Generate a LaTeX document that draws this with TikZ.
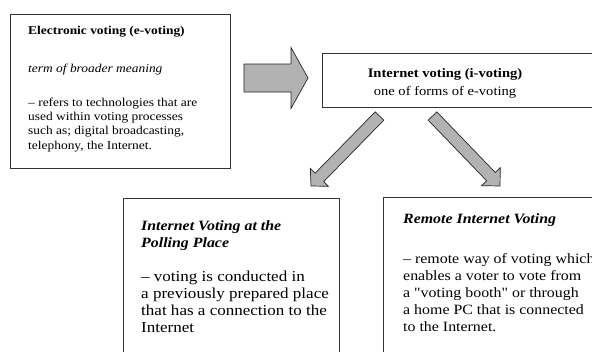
\documentclass[tikz,border=0pt]{standalone}
\usepackage{fontspec}
\setmainfont{Liberation Serif}[Ligatures=TeXOff, FakeStretch=1.12]
\usetikzlibrary{positioning,calc}

\begin{document}
\begin{tikzpicture}[
  x=1pt, y=-1pt,
  frame/.style={rectangle, draw=black!80, line width=1pt, anchor=north west, inner sep=0pt},
  txt/.style={anchor=base west, align=left, inner sep=0pt},
  blockarrow/.style n args={3}{draw=black!85, fill=black!30, line width=0.7pt, line join=miter,
    to path={($(\tikztostart)!#1!90:(\tikztotarget)$)
      -- ($(\tikztotarget)!#3!(\tikztostart)!#1!90:(\tikztotarget)$)
      -- ($(\tikztotarget)!#3!(\tikztostart)!#2!90:(\tikztotarget)$)
      -- (\tikztotarget)
      -- ($(\tikztotarget)!#3!(\tikztostart)!#2!-90:(\tikztotarget)$)
      -- ($(\tikztotarget)!#3!(\tikztostart)!#1!-90:(\tikztotarget)$)
      -- ($(\tikztostart)!#1!-90:(\tikztotarget)$) -- cycle}}
]
\useasboundingbox (0,0) rectangle (592,351);
\clip (0,0) rectangle (592,351);

% boxes
\node[frame, minimum width=220pt, minimum height=154pt] (evote) at (10,14) {};
\node[frame, minimum width=330pt, minimum height=54pt] (ivote) at (322,53) {};
\node[frame, minimum width=216pt, minimum height=200pt] (polling) at (123,198) {};
\node[frame, minimum width=330pt, minimum height=200pt] (remote) at (383,197) {};

% texts (anchored at the last line)
\node[txt, font=\fontsize{12}{14.3}\selectfont] (evotetxt) at (28,149)
  {\textbf{Electronic voting (e-voting)}\\[23.7pt]
   \textit{term of broader meaning}\\[19.7pt]
   – refers to technologies that are\\
   used within voting processes\\
   such as; digital broadcasting,\\
   telephony, the Internet.};
\node[txt, align=center, anchor=base, font=\fontsize{13}{18}\selectfont] (ivotetxt) at (445,95)
  {\textbf{Internet voting (i-voting)}\\
   one of forms of e-voting};
\node[txt, font=\fontsize{15.2}{17}\selectfont] (pollingtxt) at (141,332)
  {{\fontsize{14.2}{17}\selectfont\bfseries\itshape Internet Voting at the}\\
   {\fontsize{14.2}{17}\selectfont\bfseries\itshape Polling Place}\\[17pt]
   – voting is conducted in\\
   a previously prepared place\\
   that has a connection to the\\
   Internet};
\node[txt, font=\fontsize{14.2}{17}\selectfont] (remotetxt) at (403,331)
  {\textbf{\textit{Remote Internet Voting}}\\[23pt]
   – remote way of voting which\\
   enables a voter to vote from\\
   a "voting booth" or through\\
   a home PC that is connected\\
   to the Internet.};

% arrows
\coordinate (a0s) at (244,78);
\coordinate (a0e) at (308,78);
\coordinate (a1s) at (379.5,116);
\coordinate (a1e) at (311,186);
\coordinate (a2s) at (432.5,116);
\coordinate (a2e) at (500,186);
\draw[blockarrow={14pt}{30.5pt}{17pt}] (a0s) to (a0e);
\draw[blockarrow={6pt}{12.7pt}{12pt}] (a1s) to (a1e);
\draw[blockarrow={6pt}{13pt}{13pt}] (a2s) to (a2e);
\end{tikzpicture}
\end{document}
